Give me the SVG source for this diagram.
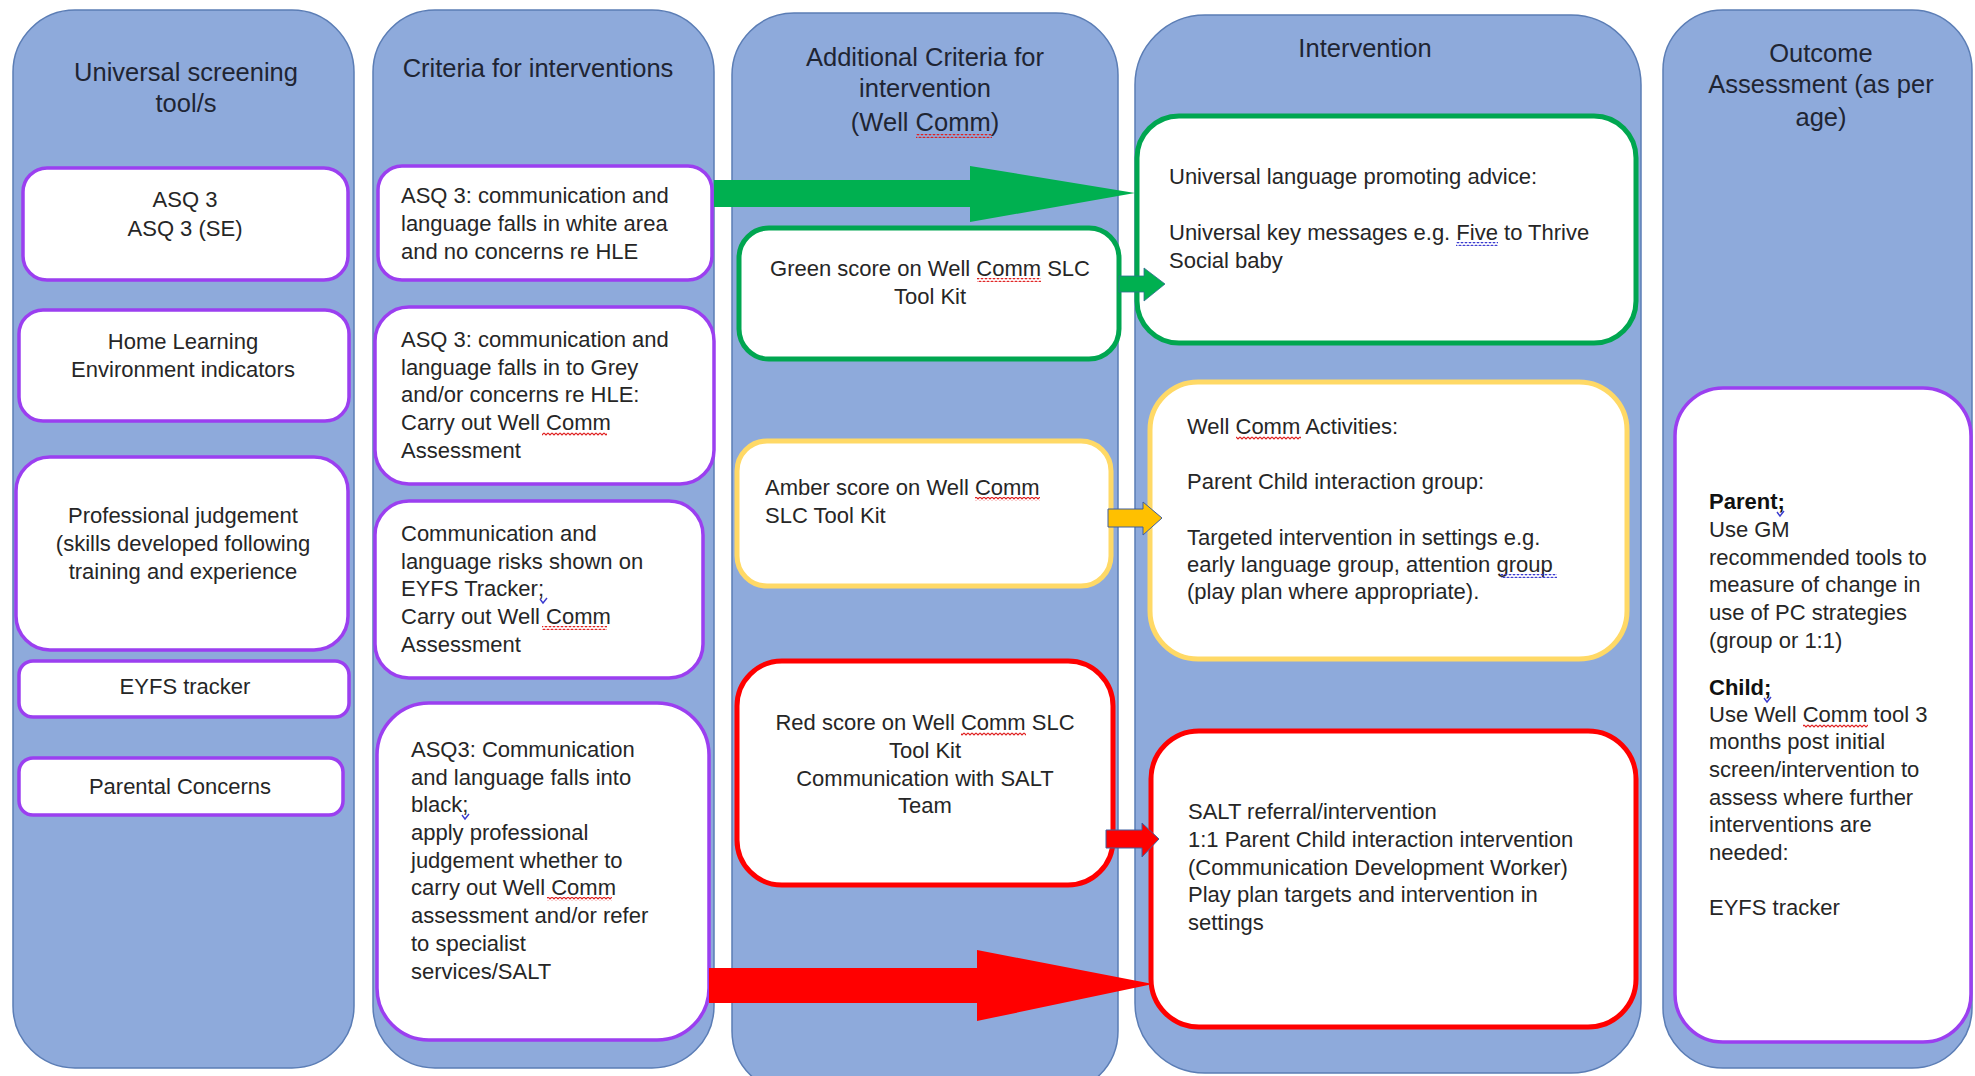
<svg xmlns="http://www.w3.org/2000/svg" width="1975" height="1076" viewBox="0 0 1975 1076">
<style>
.lane{fill:#8eaadb;stroke:#5b7db5;stroke-width:1.5}
.pbox{fill:#fff;stroke:#9b3ff0;stroke-width:3.5}
.gbox{fill:#fff;stroke:#00a650;stroke-width:5}
.ybox{fill:#fff;stroke:#ffd966;stroke-width:5}
.rbox{fill:#fff;stroke:#ff0000;stroke-width:5}
text{font-family:"Liberation Sans",Arial,sans-serif;fill:#262626}
.h{font-size:25.5px;fill:#1f2533}
.t{font-size:22px}
.c{text-anchor:middle}
.b{font-weight:bold;fill:#111}
.wr{fill:url(#waveR)}
.wb{fill:url(#waveB)}
.tick{fill:none;stroke:#3a3ad0;stroke-width:1.4}
</style>
<defs>
<pattern id="waveR" patternUnits="userSpaceOnUse" width="4" height="4"><path d="M0 1 L2 3 L4 1" fill="none" stroke="#e02020" stroke-width="1.1"/></pattern>
<pattern id="waveB" patternUnits="userSpaceOnUse" width="4" height="4"><path d="M0 1 L2 3 L4 1" fill="none" stroke="#3a3ad0" stroke-width="1.1"/></pattern>
</defs>
<rect width="1975" height="1076" fill="#fff"/>
<g id="lanes">
<rect id="lane1" class="lane" x="13" y="10" width="341" height="1058" rx="62"/>
<rect id="lane2" class="lane" x="373" y="10" width="341" height="1058" rx="62"/>
<rect id="lane3" class="lane" x="732" y="13" width="386" height="1080" rx="62"/>
<rect id="lane4" class="lane" x="1135" y="15" width="506" height="1058" rx="70"/>
<rect id="lane5" class="lane" x="1663" y="10" width="309" height="1058" rx="60"/>
</g>
<g id="headers">
<text class="h c" x="186"><tspan x="186" y="81">Universal screening</tspan><tspan x="186" y="112">tool/s</tspan></text>
<text class="h c" x="538" y="77">Criteria for interventions</text>
<text class="h c"><tspan x="925" y="66">Additional Criteria for</tspan><tspan x="925" y="97">intervention</tspan><tspan x="925" y="131">(Well Comm)</tspan></text>
<text class="h c" x="1365" y="57">Intervention</text>
<text class="h c"><tspan x="1821" y="62">Outcome</tspan><tspan x="1821" y="93">Assessment (as per</tspan><tspan x="1821" y="126">age)</tspan></text>
</g>
<g id="n-asq3"><rect class="pbox" x="23" y="168" width="325" height="112" rx="24"/>
<text class="t c"><tspan x="185" y="207">ASQ 3</tspan><tspan x="185" y="236">ASQ 3 (SE)</tspan></text></g>
<g id="n-hle"><rect class="pbox" x="19" y="310" width="330" height="111" rx="24"/>
<text class="t c"><tspan x="183" y="349">Home Learning</tspan><tspan x="183" y="377">Environment indicators</tspan></text></g>
<g id="n-prof"><rect class="pbox" x="16" y="457" width="332" height="193" rx="34"/>
<text class="t c"><tspan x="183" y="523">Professional judgement</tspan><tspan x="183" y="551">(skills developed following</tspan><tspan x="183" y="579">training and experience</tspan></text></g>
<g id="n-eyfs"><rect class="pbox" x="19" y="661" width="330" height="56" rx="14"/>
<text class="t c" x="185" y="694">EYFS tracker</text></g>
<g id="n-parental"><rect class="pbox" x="19" y="758" width="324" height="57" rx="14"/>
<text class="t c" x="180" y="794">Parental Concerns</text></g>

<g id="n-crit1"><rect class="pbox" x="378" y="166" width="334" height="114" rx="24"/>
<text class="t"><tspan x="401" y="203">ASQ 3: communication and</tspan><tspan x="401" y="231">language falls in white area</tspan><tspan x="401" y="259">and no concerns re HLE</tspan></text></g>
<g id="n-crit2"><rect class="pbox" x="375" y="307" width="339" height="177" rx="34"/>
<text class="t"><tspan x="401" y="347">ASQ 3: communication and</tspan><tspan x="401" y="375">language falls in to Grey</tspan><tspan x="401" y="402">and/or concerns re HLE:</tspan><tspan x="401" y="430">Carry out Well Comm</tspan><tspan x="401" y="458">Assessment</tspan></text></g>
<g id="n-crit3"><rect class="pbox" x="375" y="501" width="328" height="177" rx="34"/>
<text class="t"><tspan x="401" y="541">Communication and</tspan><tspan x="401" y="569">language risks shown on</tspan><tspan x="401" y="596">EYFS Tracker;</tspan><tspan x="401" y="624">Carry out Well Comm</tspan><tspan x="401" y="652">Assessment</tspan></text></g>
<g id="n-crit4"><rect class="pbox" x="377" y="703" width="332" height="337" rx="52"/>
<text class="t"><tspan x="411" y="757">ASQ3: Communication</tspan><tspan x="411" y="785">and language falls into</tspan><tspan x="411" y="812">black;</tspan><tspan x="411" y="840">apply professional</tspan><tspan x="411" y="868">judgement whether to</tspan><tspan x="411" y="895">carry out Well Comm</tspan><tspan x="411" y="923">assessment and/or refer</tspan><tspan x="411" y="951">to specialist</tspan><tspan x="411" y="979">services/SALT</tspan></text></g>

<g id="n-green"><rect class="gbox" x="739" y="228" width="380" height="131" rx="30"/>
<text class="t c"><tspan x="930" y="276">Green score on Well Comm SLC</tspan><tspan x="930" y="304">Tool Kit</tspan></text></g>
<g id="n-amber"><rect class="ybox" x="737" y="441" width="374" height="145" rx="30"/>
<text class="t"><tspan x="765" y="495">Amber score on Well Comm</tspan><tspan x="765" y="523">SLC Tool Kit</tspan></text></g>
<g id="n-red"><rect class="rbox" x="737" y="661" width="376" height="224" rx="45"/>
<text class="t c"><tspan x="925" y="730">Red score on Well Comm SLC</tspan><tspan x="925" y="758">Tool Kit</tspan><tspan x="925" y="786">Communication with SALT</tspan><tspan x="925" y="813">Team</tspan></text></g>

<g id="n-int-green"><rect class="gbox" x="1137" y="116" width="499" height="227" rx="42"/>
<text class="t"><tspan x="1169" y="184">Universal language promoting advice:</tspan><tspan x="1169" y="240">Universal key messages e.g. Five to Thrive</tspan><tspan x="1169" y="268">Social baby</tspan></text></g>
<g id="n-int-amber"><rect class="ybox" x="1150" y="382" width="477" height="277" rx="48"/>
<text class="t"><tspan x="1187" y="434">Well Comm Activities:</tspan><tspan x="1187" y="489">Parent Child interaction group:</tspan><tspan x="1187" y="545">Targeted intervention in settings e.g.</tspan><tspan x="1187" y="572">early language group, attention group</tspan><tspan x="1187" y="599">(play plan where appropriate).</tspan></text></g>
<g id="n-int-red"><rect class="rbox" x="1151" y="731" width="485" height="296" rx="48"/>
<text class="t"><tspan x="1188" y="819">SALT referral/intervention</tspan><tspan x="1188" y="847">1:1 Parent Child interaction intervention</tspan><tspan x="1188" y="875">(Communication Development Worker)</tspan><tspan x="1188" y="902">Play plan targets and intervention in</tspan><tspan x="1188" y="930">settings</tspan></text></g>

<g id="n-outcome"><rect class="pbox" x="1675" y="388" width="296" height="654" rx="48"/>
<text class="t"><tspan x="1709" y="509" class="b">Parent;</tspan><tspan x="1709" y="537">Use GM</tspan><tspan x="1709" y="565">recommended tools to</tspan><tspan x="1709" y="592">measure of change in</tspan><tspan x="1709" y="620">use of PC strategies</tspan><tspan x="1709" y="648">(group or 1:1)</tspan><tspan x="1709" y="695" class="b">Child;</tspan><tspan x="1709" y="722">Use Well Comm tool 3</tspan><tspan x="1709" y="749">months post initial</tspan><tspan x="1709" y="777">screen/intervention to</tspan><tspan x="1709" y="805">assess where further</tspan><tspan x="1709" y="832">interventions are</tspan><tspan x="1709" y="860">needed:</tspan><tspan x="1709" y="915">EYFS tracker</tspan></text></g>

<g id="spellmarks">
<rect class="wr" x="916" y="134" width="76" height="4"/>
<rect class="wr" x="542" y="432" width="65" height="4"/>
<rect class="wr" x="542" y="626" width="65" height="4"/>
<rect class="wr" x="547" y="897" width="65" height="4"/>
<rect class="wr" x="977" y="278" width="64" height="4"/>
<rect class="wr" x="975" y="497" width="65" height="4"/>
<rect class="wr" x="961" y="732" width="65" height="4"/>
<rect class="wr" x="1236" y="436" width="65" height="4"/>
<rect class="wr" x="1803" y="724" width="65" height="4"/>
<rect class="wb" x="1456" y="242" width="42" height="4"/>
<rect class="wb" x="1501" y="574" width="56" height="4"/>
<path class="tick" d="M540 599 l3 4 l4 -5"/>
<path class="tick" d="M462 815 l3 4 l4 -5"/>
<path class="tick" d="M1777 512 l3 4 l4 -5"/>
<path class="tick" d="M1764 698 l3 4 l4 -5"/>
</g>

<g id="connectors">
<polygon id="arrow-green-big" fill="#00b050" points="714,180 970,180 970,166 1135,193 970,222 970,207 714,207"/>
<polygon id="arrow-green-small" fill="#00b050" stroke="#2f6f8f" stroke-width="0.8" points="1119,276 1144,276 1144,268 1165,284 1144,301 1144,292 1119,292"/>
<polygon id="arrow-amber" fill="#ffc000" stroke="#3f5f9f" stroke-width="1" points="1108,509 1143,509 1143,502 1162,518 1143,535 1143,527 1108,527"/>
<polygon id="arrow-red-small" fill="#ff0000" stroke="#3f5f9f" stroke-width="1" points="1106,830 1142,830 1142,823 1159,839 1142,857 1142,848 1106,848"/>
<polygon id="arrow-red-big" fill="#ff0000" points="709,968 977,968 977,950 1153,984 977,1021 977,1003 709,1003"/>
</g>
</svg>
